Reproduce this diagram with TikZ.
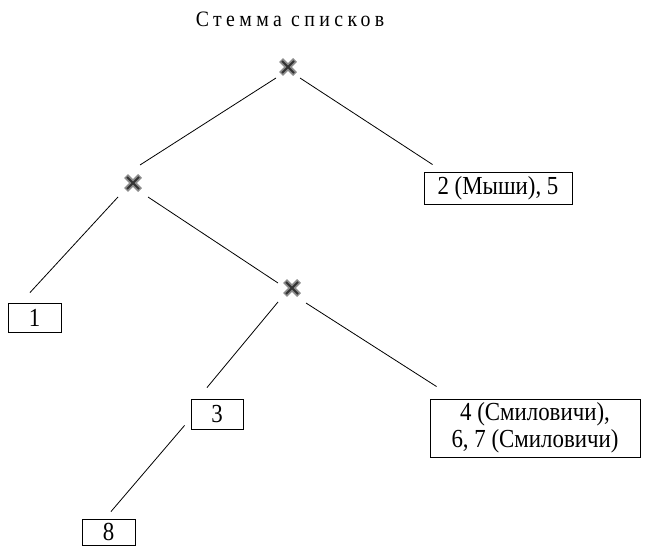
\documentclass[tikz,border=0pt]{standalone}
\usepackage{fontspec}
\setmainfont{Liberation Serif}
\newfontfamily\boxfont[FakeStretch=0.88]{Liberation Serif}
\newfontfamily\titlefont[FakeStretch=0.9,LetterSpace=20]{Liberation Serif}
\begin{document}
\begin{tikzpicture}[x=1pt,y=-1pt,
  box/.style={draw, line width=0.9pt, inner sep=0pt, align=center,
    font=\boxfont\fontsize{26}{27}\selectfont},
  conn/.style={line width=0.8pt},
  cross/.style={inner sep=0pt, minimum size=22pt,
    path picture={
      \draw[line width=5.5pt, black!45] (path picture bounding box.south west) ++(4pt,4pt) -- ([shift={(-4pt,-4pt)}]path picture bounding box.north east);
      \draw[line width=5.5pt, black!45] (path picture bounding box.north west) ++(4pt,-4pt) -- ([shift={(-4pt,4pt)}]path picture bounding box.south east);
      \draw[line width=2pt, black!80] (path picture bounding box.south west) ++(5pt,5pt) -- ([shift={(-5pt,-5pt)}]path picture bounding box.north east);
      \draw[line width=2pt, black!80] (path picture bounding box.north west) ++(5pt,-5pt) -- ([shift={(-5pt,5pt)}]path picture bounding box.south east);
    }}
]
\useasboundingbox (0,0) rectangle (649,551);
\node[font=\titlefont\fontsize{22}{24}\selectfont] (title) at (290,19) {Стемма списков};
\node[cross] (x1) at (288,67) {};
\node[cross] (x2) at (133,183) {};
\node[cross] (x3) at (292,288) {};
\node[box, minimum width=148pt, minimum height=32pt] (b2) at (498,188) {2 (Мыши), 5};
\node[box, minimum width=53pt, minimum height=29pt] (b1) at (34.5,317.5) {1};
\node[box, minimum width=52pt, minimum height=30pt] (b3) at (217,414) {3};
\node[box, minimum width=210pt, minimum height=58pt] (b4) at (535,428) {4 (Смиловичи),\\6, 7 (Смиловичи)};
\node[box, minimum width=53pt, minimum height=26pt] (b8) at (108.5,532) {8};
\draw[conn] ([shift={(-12,11)}]x1.center) -- ([shift={(7,-18)}]x2.center);
\draw[conn] ([shift={(12,11)}]x1.center) -- ([shift={(9,-7)}]b2.north west);
\draw[conn] ([shift={(-15,14)}]x2.center) -- ([shift={(-4.5,-10)}]b1.north);
\draw[conn] ([shift={(15,14)}]x2.center) -- ([shift={(-14,-5)}]x3.center);
\draw[conn] ([shift={(-14,14)}]x3.center) -- ([shift={(-10,-11)}]b3.north);
\draw[conn] ([shift={(14,15)}]x3.center) -- ([shift={(7,-12)}]b4.north west);
\draw[conn] ([shift={(-6,-4)}]b3.south west) -- ([shift={(2.5,-7)}]b8.north);
\end{tikzpicture}
\end{document}
